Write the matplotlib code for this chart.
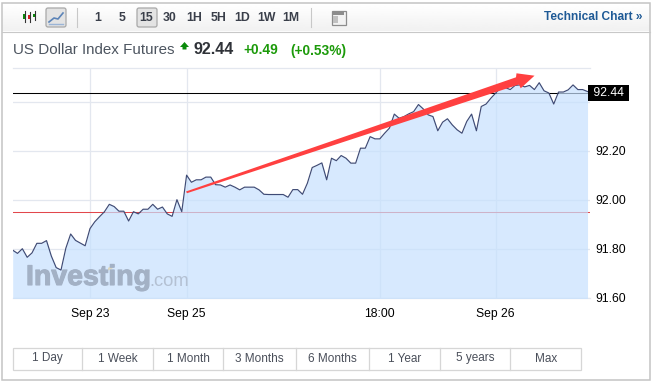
import matplotlib
matplotlib.use("Agg")
import matplotlib.pyplot as plt
import matplotlib.patheffects as pe
import numpy as np
from matplotlib.patches import Polygon, Rectangle, FancyBboxPatch

plt.rcParams["font.family"] = ["Liberation Sans", "DejaVu Sans"]

# one close per 15 min bar
prices = [
    91.795, 91.782, 91.801, 91.766, 91.784, 91.823, 91.823, 91.834, 91.771, 91.724,
    91.714, 91.803, 91.861, 91.835, 91.824, 91.813, 91.883, 91.911, 91.932, 91.952,
    91.982, 91.973, 91.954, 91.954, 91.914, 91.952, 91.943, 91.962, 91.962, 91.982,
    91.962, 91.971, 91.943, 91.933, 92.001, 91.952, 92.101, 92.072, 92.082, 92.082,
    92.093, 92.093, 92.062, 92.061, 92.052, 92.061, 92.052, 92.041, 92.052, 92.052,
    92.052, 92.041, 92.023, 92.022, 92.022, 92.022, 92.022, 92.011, 92.042, 92.042,
    92.023, 92.068, 92.132, 92.141, 92.151, 92.082, 92.170, 92.160, 92.181, 92.170,
    92.150, 92.150, 92.211, 92.211, 92.258, 92.249, 92.249, 92.272, 92.293, 92.350,
    92.333, 92.340, 92.351, 92.360, 92.389, 92.371, 92.347, 92.340, 92.282, 92.317,
    92.331, 92.306, 92.286, 92.272, 92.320, 92.350, 92.282, 92.381, 92.391, 92.415,
    92.436, 92.458, 92.458, 92.450, 92.467, 92.469, 92.461, 92.467, 92.450, 92.478,
    92.445, 92.436, 92.391, 92.440, 92.440, 92.449, 92.469, 92.450, 92.450, 92.442,
]
time_ticks = [16, 36, 76, 100]
time_labels = ["Sep 23", "Sep 25", "18:00", "Sep 26"]
price_ticks = [91.6, 91.8, 92.0, 92.2, 92.4]
price_labels = ["91.60", "91.80", "92.00", "92.20", ""]
last_price = 92.437
prev_close = 91.95

interval_labels = ["1", "5", "15", "30", "1H", "5H", "1D", "1W", "1M"]
range_labels = ["1 Day", "1 Week", "1 Month", "3 Months", "6 Months", "1 Year", "5 years", "Max"]

W, H = 654, 385
BTN = "#4a4f5a"
GRID = "#e3e7ef"

fig = plt.figure(figsize=(W / 100, H / 100), dpi=100, facecolor="white")

# price chart, the area sits over the grid and the level lines
ax = fig.add_axes([12.5 / W, 1 - 298 / H, (589.7 - 12.5) / W, (298 - 68) / H])
x = np.arange(len(prices))
ax.axhline(prev_close, color="#e2474c", lw=0.75, zorder=2)
ax.axhline(last_price, color="black", lw=0.75, zorder=2)
ax.fill_between(x, prices, 91.5, color="#c6e0fe", alpha=0.7, lw=0, zorder=3)
ax.plot(x, prices, color="#3f4b75", lw=0.85, zorder=4)
ax.set_xlim(-0.04, 119.45)
ax.set_ylim(91.6, 92.538)
ax.set_xticks(time_ticks, time_labels)
ax.yaxis.tick_right()
ax.set_yticks(price_ticks, price_labels)
ax.grid(True, color=GRID, lw=0.9, zorder=1)
ax.set_axisbelow(True)
ax.tick_params(length=0, labelsize=8.7, labelcolor="black")
ax.tick_params(axis="x", pad=7)
ax.tick_params(axis="y", pad=4)
for s in ax.spines.values():
    s.set_color(GRID)
    s.set_linewidth(0.9)
ax.spines["right"].set_visible(False)
ax.spines["left"].set_visible(False)
ax.text(1.0, last_price, " 92.44 ", transform=ax.get_yaxis_transform(), color="white",
        fontsize=8.7, va="center", ha="left",
        bbox=dict(facecolor="black", edgecolor="none", pad=1.5), zorder=6, clip_on=False)

# page furniture, in pixel coordinates
ui = fig.add_axes([0, 0, 1, 1], zorder=5)
ui.patch.set_visible(False)
ui.axis("off")

gradient = np.linspace(1.0, 0.945, 30).reshape(-1, 1)
ui.imshow(gradient, cmap="gray", vmin=0, vmax=1, extent=(2, 650, 31, 3), aspect="auto", zorder=0)
ui.set_xlim(0, W)
ui.set_ylim(H, 0)
ui.add_patch(Rectangle((1.5, 2.5), 648.5, 377.5, fill=False, ec="#c4c4c4", lw=1.1))
ui.plot([2, 650], [31.5, 31.5], color="#c8c8c8", lw=0.8)

# toolbar
for sep in [77, 311]:
    ui.plot([sep, sep], [8, 27], color="#c8c8c8", lw=0.8)
for bx, bw in [(46, 20), (137, 20)]:
    ui.add_patch(FancyBboxPatch((bx, 8), bw, 19, boxstyle="round,pad=0,rounding_size=2",
                                fc="#e3e3e3", ec="#a8a8a8", lw=0.9))
for cx, top, bot, col in [(24.5, 11, 22, "#0a8a0a"), (29.5, 12, 22, "#d81e1e"), (34.5, 11, 20, "#0a8a0a")]:
    ui.plot([cx, cx], [top, bot], color="#333333", lw=0.8)
    ui.add_patch(Rectangle((cx - 1.5, top + 3), 3, bot - top - 6, fc=col, ec="none"))
ui.plot([49, 54, 58, 63], [22, 18, 19, 13], color="#5c84b8", lw=1.2)
ui.plot([49, 63], [24, 24], color="#9ab4d6", lw=1)

interval_x = [98, 122.5, 146, 170, 194.5, 218.5, 242.5, 266.5, 290.5]
for lx, lab in zip(interval_x, interval_labels):
    ui.text(lx, 18, lab, ha="center", va="center", fontsize=8.8, fontweight="bold", color="#3a3f4a")

ui.add_patch(Rectangle((331.5, 10.5), 14, 14, fc="#f2f2f2", ec="#8c8c8c", lw=0.9))
ui.add_patch(Rectangle((333, 12), 11, 2.5, fc="#8c8c8c", ec="none"))
ui.add_patch(Rectangle((333, 16), 5, 7, fc="#c0c0c0", ec="none"))
ui.text(643, 17.5, "Technical Chart »", ha="right", va="center", fontsize=8.6,
        fontweight="bold", color="#1f5a96")

# quote line
ui.text(13, 50, "US Dollar Index Futures", ha="left", va="center", fontsize=10.9, color="#4d5560")
ui.add_patch(Polygon([[184.5, 42], [189, 47], [186.5, 47], [186.5, 49.5], [182.5, 49.5], [182.5, 47], [180, 47]],
                     fc="#0a8a0a", ec="none"))
ui.text(193, 50, "92.44", ha="left", va="center", fontsize=11.6, fontweight="bold", color="#2f3238")
ui.text(243, 50.5, "+0.49", ha="left", va="center", fontsize=9.9, fontweight="bold", color="#1c9a0a")
ui.text(290, 50.5, "(+0.53%)", ha="left", va="center", fontsize=9.9, fontweight="bold", color="#1c9a0a")

# watermark
ui.text(26, 278, "Investing", ha="left", va="center", fontsize=20.5, fontweight="bold", color="#a3b1c5",
        path_effects=[pe.withStroke(linewidth=0.8, foreground="#a3b1c5")])
ui.text(149, 281, ".com", ha="left", va="center", fontsize=13.2, color="#b4c1d3")
ui.add_patch(Polygon([[108, 268], [112.5, 264.5], [112.5, 268.5], [108, 270.5]], fc="#ddd8c0", ec="none"))

# hand drawn arrow on top of the screenshot
ui.add_patch(Polygon([[186, 191.5], [516, 77.3], [516.5, 73.3], [534.5, 75.7], [520.7, 88.3], [519, 84.5], [187, 193.2]],
                     fc="#ff4040", ec="none", zorder=8))

# range buttons
range_edges = [12.7, 82.3, 153.3, 223.3, 296.3, 369.3, 440.3, 510.3, 581.3]
ui.add_patch(Rectangle((12.7, 347.5), 568.6, 22, fill=False, ec="#d6d6d6", lw=0.9))
for edge in range_edges[1:-1]:
    ui.plot([edge, edge], [347.5, 369.5], color="#d6d6d6", lw=0.9)
for left, right, lab in zip(range_edges[:-1], range_edges[1:], range_labels):
    ui.text((left + right) / 2, 358.5, lab, ha="center", va="center", fontsize=8.5, color=BTN)

fig.savefig("out.png", dpi=100)
